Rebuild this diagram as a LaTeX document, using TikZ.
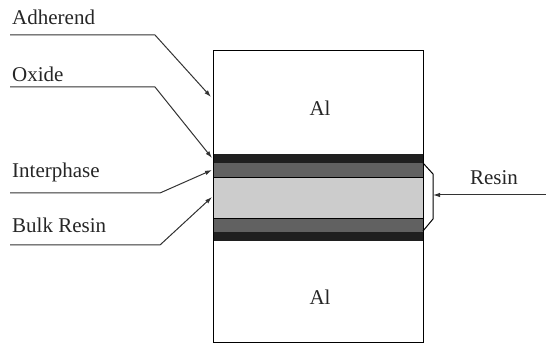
\documentclass[tikz,border=0pt]{standalone}
\usepackage{fontspec}
\setmainfont{Liberation Serif}
\usetikzlibrary{calc}
\usetikzlibrary{arrows.meta}

\tikzset{lbl/.style={inner sep=0pt, text=black!85, font=\fontsize{21}{25}\selectfont},
  arr/.style={-{Latex[length=7pt,width=4.5pt]}, line width=1pt, draw=black!80}}

\begin{document}
\begin{tikzpicture}[x=1pt,y=-1pt]
\useasboundingbox (0,0) rectangle (546,344);
% layers of the joint
\fill[black!88] (213,154) rectangle (423,163);
\fill[black!62] (213,163) rectangle (423,177);
\fill[black!20] (213,177) rectangle (423,218);
\fill[black!62] (213,218) rectangle (423,232);
\fill[black!88] (213,232) rectangle (423,241);
\draw[line width=1pt] (213,51) rectangle (423,343);
\draw[line width=0.6pt] (213,177) -- (423,177);
\draw[line width=0.6pt] (213,218) -- (423,218);
\node[lbl] (al1) at (320,108) {Al};
\node[lbl] (al2) at (320,297) {Al};
% labels on the left
\node[lbl, anchor=base west] (adh) at (12,25) {Adherend};
\node[lbl, anchor=base west] (ox) at (12,82) {Oxide};
\node[lbl, anchor=base west] (inter) at (12,178) {Interphase};
\node[lbl, anchor=base west] (bulk) at (12,233) {Bulk Resin};
\coordinate (adhtip) at (211,97);
\coordinate (oxtip) at (212,158);
\coordinate (intertip) at (212,170);
\coordinate (bulktip) at (212,197);
\draw[arr] ($(adh.base west)+(-2,10)$) -- ++(145,0) -- (adhtip);
\draw[arr] ($(ox.base west)+(-2,5)$) -- ++(145,0) -- (oxtip);
\draw[arr] ($(inter.base west)+(-2,15)$) -- ++(150,0) -- (intertip);
\draw[arr] ($(bulk.base west)+(-2,12)$) -- ++(150,0) -- (bulktip);
% resin bracket
\node[lbl, anchor=base] (resin) at (494,185) {Resin};
\coordinate (brk) at (433,195);
\draw[line width=1pt] (423,163) -- (433,174) -- (433,219) -- (423,231);
\draw[arr] (546,195) -- (brk);
\end{tikzpicture}
\end{document}
